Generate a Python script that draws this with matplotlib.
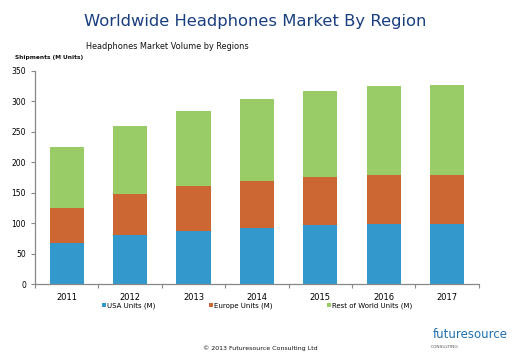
import numpy as np
import matplotlib.pyplot as plt

years = ['2011', '2012', '2013', '2014', '2015', '2016', '2017']
usa = [67, 80, 87, 93, 97, 99, 99]
europe = [58, 68, 74, 76, 79, 80, 80]
rest = [100, 111, 123, 135, 141, 146, 148]
yticks = [0, 50, 100, 150, 200, 250, 300, 350]

c_usa = '#3399cc'
c_eur = '#cc6633'
c_row = '#99cc66'

fig = plt.figure(figsize=(5.2, 3.6), dpi=100)
ax = fig.add_axes([0.0673, 0.2103, 0.8535, 0.5933])

x = np.arange(len(years))
w = 0.54
ax.bar(x, usa, w, color=c_usa, label='USA Units (M)')
ax.bar(x, europe, w, bottom=usa, color=c_eur, label='Europe Units (M)')
bot = np.array(usa) + np.array(europe)
ax.bar(x, rest, w, bottom=bot, color=c_row, label='Rest of World Units (M)')

ax.set_xlim(-0.5, len(years) - 0.5)
ax.set_ylim(0, 350)
ax.set_yticks(yticks)
ax.set_xticks(x)
ax.set_xticklabels(years, fontsize=6)
ax.set_xticks(np.arange(len(years) + 1) - 0.5, minor=True)
ax.tick_params(axis='x', which='major', length=0, pad=6)
ax.tick_params(axis='x', which='minor', length=3, color='#888888', width=0.8)
ax.tick_params(axis='y', labelsize=5.5, length=3, color='#888888', width=0.8)
for s in ['top', 'right']:
    ax.spines[s].set_visible(False)
for s in ['left', 'bottom']:
    ax.spines[s].set_color('#888888')
    ax.spines[s].set_linewidth(0.9)

ax.legend(loc='upper center', bbox_to_anchor=(0.5, -0.055), ncol=3, frameon=False,
          fontsize=5, handlelength=0.6, handleheight=0.6, handletextpad=0.1,
          columnspacing=7.8)

fig.text(0.49, 0.94, 'Worldwide Headphones Market By Region', ha='center', va='center',
         fontsize=11.8, color='#1a3f80')
fig.text(0.165, 0.872, 'Headphones Market Volume by Regions', ha='left', va='center',
         fontsize=5.9, color='#111111')
fig.text(0.028, 0.84, 'Shipments (M Units)', ha='left', va='center',
         fontsize=4.2, fontweight='bold', color='#111111')
fig.text(0.5, 0.033, '© 2013 Futuresource Consulting Ltd', ha='center', va='center',
         fontsize=4.5, color='#111111')

# logo
fig.text(0.904, 0.072, 'futuresource', ha='center', va='center', fontsize=8.5,
         color='#1f6fb0')
fig.text(0.828, 0.036, 'CONSULTING', ha='left', va='center', fontsize=3.2,
         color='#555555')

fig.savefig('out.png', dpi=100)
